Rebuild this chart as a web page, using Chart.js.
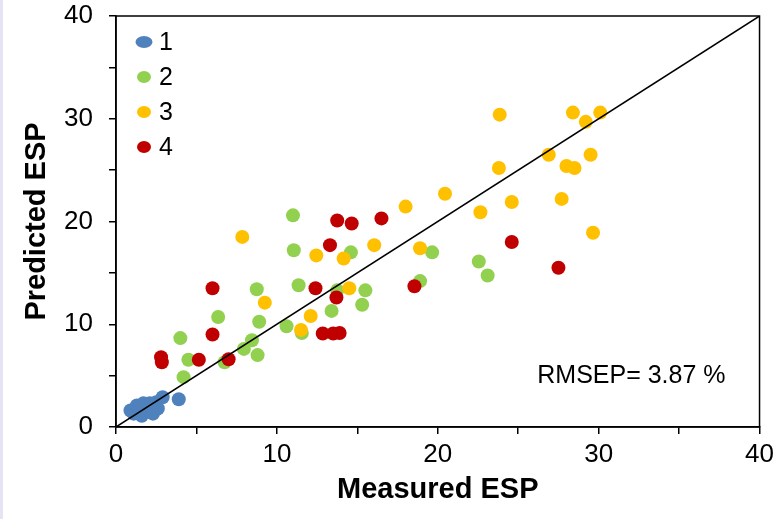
<!DOCTYPE html>
<html>
<head>
<meta charset="utf-8">
<script src="https://cdn.jsdelivr.net/npm/chart.js@4"></script>
<style>
  html, body { margin: 0; padding: 0; }
  body { background: linear-gradient(to right, #e4e4f4 3px, #ffffff 3px); }
  #wrap { width: 779px; height: 519px; position: relative; }
</style>
</head>
<body>
<div id="wrap"><canvas id="chart" width="779" height="519"></canvas></div>
<script>
// Sample data (Measured ESP, Predicted ESP) per group
const group1 = [
  [0.9, 1.6], [1.1, 1.3], [1.3, 2.1], [1.6, 1.1], [1.7, 2.3], [2.0, 1.7], [2.1, 2.3],
  [2.3, 1.3], [2.5, 2.4], [2.6, 1.8], [1.5, 1.6], [2.9, 2.9], [3.9, 2.7], [2.2, 1.4]
];
const group2 = [
  [11.0, 20.6], [11.05, 17.2], [14.6, 17.0], [19.65, 17.0], [11.35, 13.8], [13.75, 13.3],
  [15.5, 13.3], [18.9, 14.2], [8.75, 13.4], [6.35, 10.7], [8.9, 10.25], [15.3, 11.9],
  [13.4, 11.3], [10.6, 9.8], [11.55, 9.15], [4.0, 8.65], [8.45, 8.45], [7.95, 7.6],
  [8.8, 7.0], [4.5, 6.55], [6.75, 6.3], [4.2, 4.85], [22.55, 16.1], [23.1, 14.75]
];
const group3 = [
  [23.85, 30.4], [28.4, 30.6], [30.1, 30.6], [29.2, 29.7], [26.9, 26.5], [29.5, 26.5],
  [23.8, 25.2], [28.0, 25.4], [28.5, 25.2], [20.45, 22.7], [22.65, 20.9], [24.6, 21.9],
  [27.7, 22.2], [29.65, 18.9], [18.0, 21.45], [7.85, 18.5], [12.45, 16.7], [14.15, 16.4],
  [16.05, 17.7], [18.9, 17.4], [9.25, 12.1], [14.5, 13.5], [12.1, 10.8], [11.5, 9.45]
];
const group4 = [
  [13.75, 20.1], [14.65, 19.8], [16.5, 20.3], [13.3, 17.7], [6.0, 13.5], [12.4, 13.5],
  [13.7, 12.6], [6.0, 9.0], [12.85, 9.1], [13.5, 9.1], [13.9, 9.15], [2.8, 6.8],
  [2.85, 6.3], [5.15, 6.55], [7.0, 6.6], [18.55, 13.7], [24.6, 18.0], [27.5, 15.5]
];
const groupLabels = ['1', '2', '3', '4'];
const groupColors = ['#4f81bd', '#92d050', '#ffc000', '#c00000'];
const oneToOne = [[0, 0], [40, 40]];
const axisMin = 0;
const axisMax = 40;
const rmsepText = 'RMSEP= 3.87 %';

const toPoints = arr => arr.map(p => ({ x: p[0], y: p[1] }));

const groups = [group1, group2, group3, group4];

const datasets = groups.map((g, i) => ({
  type: 'scatter',
  label: groupLabels[i],
  data: toPoints(g),
  backgroundColor: groupColors[i],
  borderWidth: 0,
  pointRadius: 7,
  pointHoverRadius: 7,
  order: 4 - i
}));

datasets.push({
  type: 'line',
  label: '1:1',
  data: toPoints(oneToOne),
  borderColor: '#000',
  borderWidth: 1.5,
  pointRadius: 0,
  fill: false,
  order: 0
});

// Box around plot, inner legend and RMSEP note
const extrasPlugin = {
  id: 'extras',
  afterDraw(chart) {
    const { ctx, chartArea: a } = chart;
    ctx.save();
    ctx.strokeStyle = '#000';
    ctx.lineWidth = 1.5;
    ctx.strokeRect(a.left, a.top, a.right - a.left, a.bottom - a.top);

    ctx.font = '25px "Liberation Sans", Arial, sans-serif';
    ctx.textBaseline = 'middle';
    groupLabels.forEach((lab, i) => {
      const y = a.top + 26 + i * 35;
      ctx.fillStyle = groupColors[i];
      ctx.beginPath();
      ctx.ellipse(a.left + 28, y, i === 0 ? 8.5 : 7, 6, 0, 0, Math.PI * 2);
      ctx.fill();
      ctx.fillStyle = '#000';
      ctx.fillText(lab, a.left + 43, y + 1);
    });

    ctx.font = '25px "Liberation Sans", Arial, sans-serif';
    ctx.textAlign = 'right';
    ctx.fillText(rmsepText, a.right - 34, a.bottom - 51);
    ctx.restore();
  }
};

const tickFont = { family: '"Liberation Sans", Arial, sans-serif', size: 26 };
const titleFont = { family: '"Liberation Sans", Arial, sans-serif', size: 29, weight: 'bold', lineHeight: 1 };

new Chart(document.getElementById('chart'), {
  data: { datasets: datasets },
  options: {
    responsive: false,
    animation: false,
    events: [],
    layout: { padding: { left: 0, right: 19, top: 16, bottom: 0 } },
    plugins: { legend: { display: false }, tooltip: { enabled: false } },
    scales: {
      x: {
        type: 'linear',
        min: axisMin,
        max: axisMax,
        border: { color: '#000', width: 1.5 },
        grid: { drawOnChartArea: false, drawTicks: true, tickLength: 7, color: '#000', lineWidth: 1.5 },
        ticks: {
          stepSize: 5,
          color: '#000',
          font: tickFont,
          padding: 5,
          maxRotation: 0,
          autoSkip: false,
          callback: v => (v % 10 === 0 ? v : '')
        },
        title: { display: true, text: 'Measured ESP', color: '#000', font: titleFont, padding: { top: 0, bottom: 15 } },
        afterFit: s => { s.height = 92; s.paddingLeft = 0; }
      },
      y: {
        type: 'linear',
        min: axisMin,
        max: axisMax,
        border: { color: '#000', width: 1.5 },
        grid: { drawOnChartArea: false, drawTicks: true, tickLength: 7, color: '#000', lineWidth: 1.5 },
        ticks: {
          stepSize: 5,
          color: '#000',
          font: tickFont,
          padding: 16,
          autoSkip: false,
          callback: v => (v % 10 === 0 ? v : '')
        },
        title: { display: true, text: 'Predicted ESP', color: '#000', font: titleFont, padding: { top: 22, bottom: 0 } },
        afterFit: s => { s.width = 116; s.paddingTop = 0; s.paddingBottom = 0; }
      }
    }
  },
  plugins: [extrasPlugin]
});
</script>
</body>
</html>
